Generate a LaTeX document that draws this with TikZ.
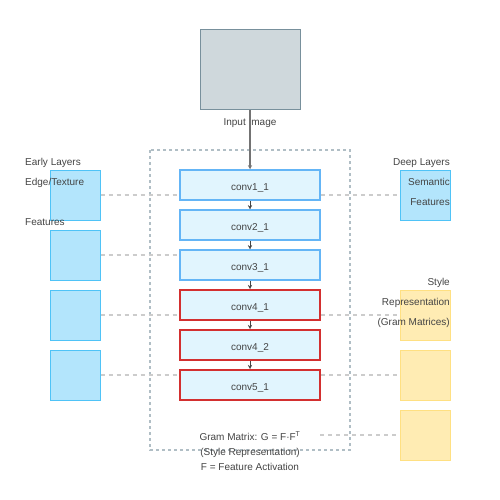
\documentclass[tikz,border=0pt]{standalone}
\usepackage{fontspec}
\setmainfont{Liberation Sans}
\usetikzlibrary{arrows.meta}
\definecolor{txtgray}{HTML}{444444}
\definecolor{imgfill}{HTML}{CFD8DC}
\definecolor{imgdraw}{HTML}{78909C}
\definecolor{convfill}{HTML}{E1F5FE}
\definecolor{convblue}{HTML}{64B5F6}
\definecolor{convred}{HTML}{D32F2F}
\definecolor{featfill}{HTML}{B3E5FC}
\definecolor{featdraw}{HTML}{4FC3F7}
\definecolor{stylefill}{HTML}{FFECB3}
\definecolor{styledraw}{HTML}{FFE082}
\definecolor{framegray}{HTML}{B0BEC5}
\definecolor{linkgray}{HTML}{CCCCCC}
\begin{document}
\begin{tikzpicture}[x=1pt, y=-1pt, >={Stealth[length=4pt,width=4pt]}]
        \tikzstyle{label}=[text=txtgray, font=\fontsize{10}{12}\selectfont, inner sep=0pt]
        \tikzstyle{conv}=[draw=convblue, fill=convfill, line width=1.5pt, minimum width=140pt, minimum height=30pt, inner sep=0pt, text height=10pt, text depth=0pt, text=txtgray, font=\fontsize{10}{12}\selectfont]
        \tikzstyle{convsel}=[conv, draw=convred, line width=2pt]
        \tikzstyle{feat}=[draw=featdraw, fill=featfill, line width=1pt, minimum size=50pt, inner sep=0pt]
        \tikzstyle{gram}=[feat, draw=styledraw, fill=stylefill]
        \tikzstyle{link}=[draw=linkgray, line width=1.5pt, dash pattern=on 4pt off 4pt]

        \useasboundingbox (0,0) rectangle (500,500);
        \fill[white] (0,0) rectangle (500,500);

        % network frame
        \draw[framegray, line width=1.5pt, dash pattern=on 3pt off 3pt] (150,150) rectangle (350,450);

        \node[draw=imgdraw, fill=imgfill, line width=1pt, minimum width=100pt, minimum height=80pt](img) at (250,70){};

        \node[conv](c11) at (250,185){conv1\_1};
        \node[conv](c21) at (250,225){conv2\_1};
        \node[conv](c31) at (250,265){conv3\_1};
        \node[convsel](c41) at (250,305){conv4\_1};
        \node[convsel](c42) at (250,345){conv4\_2};
        \node[convsel](c51) at (250,385){conv5\_1};

        \node[feat](e1) at (75,195){};
        \node[feat](e2) at (75,255){};
        \node[feat](e3) at (75,315){};
        \node[feat](e4) at (75,375){};

        \node[feat](d1) at (425,195){};
        \node[gram](s1) at (425,315){};
        \node[gram](s2) at (425,375){};
        \node[gram](s3) at (425,435){};

        \node[label, anchor=base](imglbl) at (250,125){Input Image};
        \node[label, anchor=base west](early) at (25,165){Early Layers};
        \node[label, anchor=base west](edge) at (25,185){Edge/Texture};
        \node[label, anchor=base west](feats) at (25,225){Features};
        \node[label, anchor=base east](deep) at (450,165){Deep Layers};
        \node[label, anchor=base east](sem) at (450,185){Semantic};
        \node[label, anchor=base east](semf) at (450,205){Features};
        \node[label, anchor=base east](sty) at (450,285){Style};
        \node[label, anchor=base east](styr) at (450,305){Representation};
        \node[label, anchor=base east](styg) at (450,325){(Gram Matrices)};

        \node[label, anchor=base](g1) at (250,440){Gram Matrix: G = F·F\textsuperscript{T}};
        \node[label, anchor=base](g2) at (250,455){(Style Representation)};
        \node[label, anchor=base](g3) at (250,470){F = Feature Activation};
        \coordinate (gramend) at (320,435);

        \draw[->, draw=gray!90!black, line width=1.5pt] (img) -- (c11);
        \draw[->, draw=txtgray] (c11) -- (c21);
        \draw[->, draw=txtgray] (c21) -- (c31);
        \draw[->, draw=txtgray] (c31) -- (c41);
        \draw[->, draw=txtgray] (c41) -- (c42);
        \draw[->, draw=txtgray] (c42) -- (c51);

        \draw[link] (e1.east) -- (c11.west |- e1.east);
        \draw[link] (e2.east) -- (c21.west |- e2.east);
        \draw[link] (e3.east) -- (c41.west |- e3.east);
        \draw[link] (e4.east) -- (c51.west |- e4.east);
        \draw[link] (c11.east |- d1.west) -- (d1.west);
        \draw[link] (c41.east |- s1.west) -- (s1.west);
        \draw[link] (c51.east |- s2.west) -- (s2.west);
        \draw[link] (gramend) -- (s3.west);

        \end{tikzpicture}
\end{document}
